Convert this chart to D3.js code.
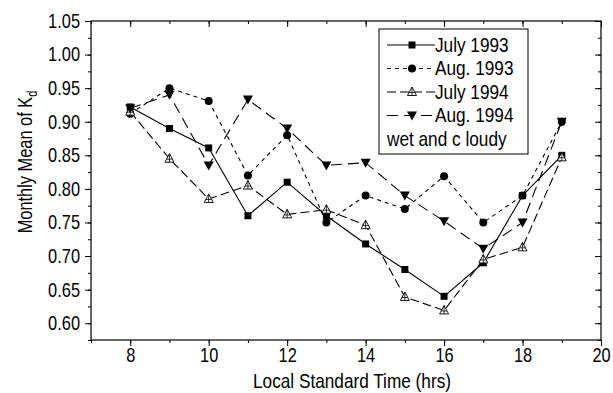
<!DOCTYPE html>
<html>
<head>
<meta charset="utf-8">
<script src="https://cdn.jsdelivr.net/npm/d3@7"></script>
<style>
  body { margin: 0; background: #fff; }
  text { font-family: "Liberation Sans", Arial, sans-serif; fill: #000; }
</style>
</head>
<body>
<svg width="613" height="393"></svg>
<script>
var hours = [8, 9, 10, 11, 12, 13, 14, 15, 16, 17, 18, 19];
var july1993 = [0.922, 0.89, 0.861, 0.76, 0.81, 0.76, 0.718, 0.68, 0.64, 0.69, 0.79, 0.85];
var aug1993 = [0.912, 0.95, 0.931, 0.82, 0.88, 0.75, 0.79, 0.77, 0.819, 0.75, 0.79, 0.90];
var july1994 = [0.915, 0.845, 0.785, 0.805, 0.762, 0.769, 0.746, 0.639, 0.619, 0.695, 0.713, 0.847];
var aug1994 = [0.92, 0.94, 0.835, 0.933, 0.89, 0.835, 0.839, 0.79, 0.752, 0.711, 0.75, 0.90];
var seriesNames = ['July 1993', 'Aug. 1993', 'July 1994', 'Aug. 1994'];
var xTicks = [8, 10, 12, 14, 16, 18, 20];
var yTicks = [0.60, 0.65, 0.70, 0.75, 0.80, 0.85, 0.90, 0.95, 1.00, 1.05];

var series = [
    { name: seriesNames[0], values: july1993, dash: null, marker: 'square' },
    { name: seriesNames[1], values: aug1993, dash: '4,4', marker: 'circle' },
    { name: seriesNames[2], values: july1994, dash: '9,4', marker: 'triangle' },
    { name: seriesNames[3], values: aug1994, dash: '11,6', marker: 'down' },
];

var svg = d3.select('svg');
var pLeft = 91, pRight = 601, pTop = 21, pBottom = 340;

var x = d3.scaleLinear().domain([7, 20]).range([pLeft, pRight]);
var y = d3.scaleLinear().domain([0.575, 1.05]).range([pBottom, pTop]);

// squeeze text horizontally, the original uses a narrow face
function narrow(sel, k) {
    sel.each(function () {
        var t = d3.select(this);
        var x0 = +t.attr('x') || 0;
        var tr = t.attr('transform') || '';
        t.attr('x', x0 / k).attr('transform', tr + ' scale(' + k + ',1)');
    });
}

// frame
svg.append('rect')
    .attr('x', pLeft).attr('y', pTop)
    .attr('width', pRight - pLeft).attr('height', pBottom - pTop)
    .attr('fill', 'none').attr('stroke', '#000').attr('stroke-width', 1.2);

var minorX = d3.range(7, 20.5, 1);
var minorY = d3.range(0.575, 1.051, 0.025);

// left axis, outward ticks
svg.append('g').attr('class', 'ax').attr('transform', 'translate(' + pLeft + ',0)')
    .call(d3.axisLeft(y).tickValues(yTicks).tickFormat(d3.format('.2f')).tickSize(6).tickPadding(5));
svg.append('g').attr('transform', 'translate(' + pLeft + ',0)')
    .call(d3.axisLeft(y).tickValues(minorY).tickFormat('').tickSize(3));
// right axis, inward ticks
svg.append('g').attr('transform', 'translate(' + pRight + ',0)')
    .call(d3.axisLeft(y).tickValues(yTicks).tickFormat('').tickSize(6));
svg.append('g').attr('transform', 'translate(' + pRight + ',0)')
    .call(d3.axisLeft(y).tickValues(minorY).tickFormat('').tickSize(3));
// bottom axis, outward ticks
svg.append('g').attr('class', 'ax').attr('transform', 'translate(0,' + pBottom + ')')
    .call(d3.axisBottom(x).tickValues(xTicks).tickSize(6).tickPadding(2));
svg.append('g').attr('transform', 'translate(0,' + pBottom + ')')
    .call(d3.axisBottom(x).tickValues(minorX).tickFormat('').tickSize(3));
// top axis, inward ticks
svg.append('g').attr('transform', 'translate(0,' + pTop + ')')
    .call(d3.axisBottom(x).tickValues(xTicks).tickFormat('').tickSize(6));
svg.append('g').attr('transform', 'translate(0,' + pTop + ')')
    .call(d3.axisBottom(x).tickValues(minorX).tickFormat('').tickSize(3));

svg.selectAll('.domain').remove();
svg.selectAll('.tick line').attr('stroke', '#000');
svg.selectAll('.ax .tick text')
    .attr('font-family', null).attr('font-size', null)
    .style('font-size', '20px')
    .call(narrow, 0.82);

// axis titles
svg.append('text')
    .attr('x', (pLeft + pRight) / 2 + 6).attr('y', 388)
    .attr('text-anchor', 'middle')
    .style('font-size', '21px')
    .text('Local Standard Time (hrs)')
    .call(narrow, 0.82);

var yt = svg.append('text')
    .attr('transform', 'translate(32,' + 162 + ') rotate(-90)')
    .attr('text-anchor', 'middle')
    .style('font-size', '21px');
yt.append('tspan').text('Monthly Mean of K');
yt.append('tspan').attr('dy', 5).style('font-size', '14px').text('d');
yt.call(narrow, 0.78);

// markers
function drawMarker(g, type, cx, cy) {
    if (type === 'square') {
        g.append('rect').attr('x', cx - 3.5).attr('y', cy - 3.5)
            .attr('width', 7).attr('height', 7).attr('fill', '#000');
    } else if (type === 'circle') {
        g.append('circle').attr('cx', cx).attr('cy', cy).attr('r', 4).attr('fill', '#000');
    } else if (type === 'triangle') {
        g.append('path')
            .attr('d', 'M' + cx + ',' + (cy - 5) + 'L' + (cx + 4.5) + ',' + (cy + 3.5) + 'L' + (cx - 4.5) + ',' + (cy + 3.5) + 'Z')
            .attr('fill', '#fff').attr('stroke', '#000').attr('stroke-width', 0.9);
        g.append('line').attr('x1', cx).attr('x2', cx).attr('y1', cy - 5).attr('y2', cy + 3.5)
            .attr('stroke', '#000').attr('stroke-width', 0.8);
        g.append('line').attr('x1', cx - 3).attr('x2', cx + 3).attr('y1', cy + 0.5).attr('y2', cy + 0.5)
            .attr('stroke', '#000').attr('stroke-width', 0.8);
    } else {
        g.append('path')
            .attr('d', 'M' + (cx - 5) + ',' + (cy - 4) + 'L' + (cx + 5) + ',' + (cy - 4) + 'L' + cx + ',' + (cy + 5) + 'Z')
            .attr('fill', '#000');
    }
}

var line = d3.line()
    .x(function (d, i) { return x(hours[i]); })
    .y(function (d) { return y(d); });

series.forEach(function (s) {
    svg.append('path')
        .attr('d', line(s.values))
        .attr('fill', 'none')
        .attr('stroke', '#000')
        .attr('stroke-width', 1.1)
        .attr('stroke-dasharray', s.dash);
});
series.forEach(function (s) {
    var g = svg.append('g');
    s.values.forEach(function (v, i) {
        drawMarker(g, s.marker, x(hours[i]), y(v));
    });
});

// legend
var lg = svg.append('g');
lg.append('rect')
    .attr('x', 379).attr('y', 29).attr('width', 149).attr('height', 125)
    .attr('fill', '#fff').attr('stroke', '#000').attr('stroke-width', 1);

series.forEach(function (s, i) {
    var cy = 45 + i * 23.5;
    lg.append('line')
        .attr('x1', 387).attr('x2', 435).attr('y1', cy).attr('y2', cy)
        .attr('stroke', '#000').attr('stroke-width', 1.1)
        .attr('stroke-dasharray', s.dash);
    drawMarker(lg, s.marker, 412, cy);
    lg.append('text')
        .attr('x', 435).attr('y', cy + 7)
        .style('font-size', '21px')
        .text(s.name)
        .call(narrow, 0.82);
});
lg.append('text')
    .attr('x', 387).attr('y', 45 + 4 * 23.5 + 7)
    .style('font-size', '21px')
    .text('wet and c loudy')
    .call(narrow, 0.82);
</script>
</body>
</html>
